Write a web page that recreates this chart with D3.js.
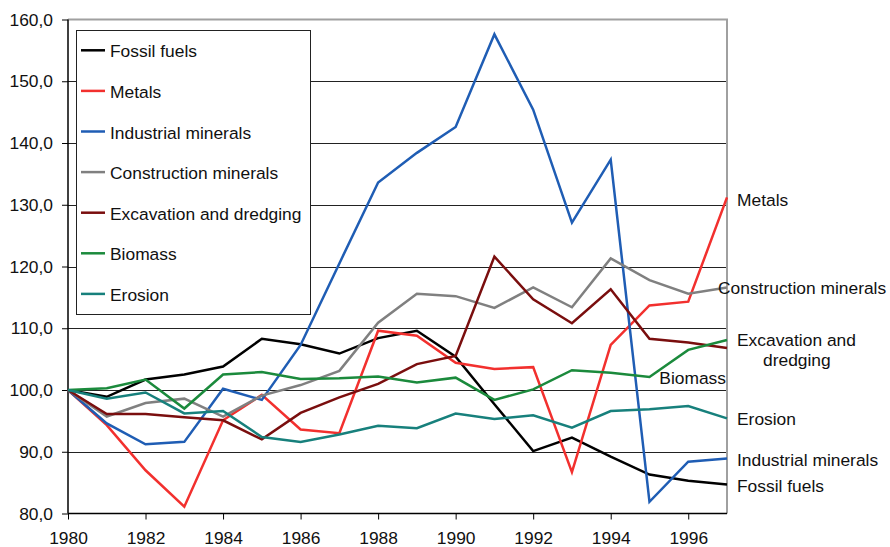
<!DOCTYPE html>
<html>
<head>
<meta charset="utf-8">
<script src="https://cdn.jsdelivr.net/npm/d3@7"></script>
<style>
  body { margin: 0; background: #fff; }
  text { font-family: "Liberation Sans", Arial, sans-serif; fill: #111; }
</style>
</head>
<body>
<div id="chart"></div>
<script>
var years = d3.range(1980, 1998);

var fossilFuels = [100, 98.9, 101.7, 102.5, 103.8, 108.3, 107.4, 105.9, 108.4, 109.6, 105.4, 97.7, 90.1, 92.3, 89.2, 86.3, 85.3, 84.7];
var metals = [100, 94.3, 87.0, 81.1, 95.1, 99.2, 93.6, 93.0, 109.6, 108.8, 104.4, 103.4, 103.7, 86.7, 107.3, 113.7, 114.3, 131.2];
var industrialMinerals = [100, 94.6, 91.2, 91.6, 100.2, 98.4, 107.3, 120.5, 133.6, 138.4, 142.6, 157.6, 145.4, 127.1, 137.3, 81.9, 88.4, 88.9];
var constructionMinerals = [100, 95.7, 97.9, 98.6, 95.7, 99.1, 100.8, 103.1, 110.9, 115.6, 115.2, 113.3, 116.6, 113.4, 121.3, 117.8, 115.6, 116.6];
var excavation = [100, 96.1, 96.1, 95.6, 95.1, 92.0, 96.3, 98.8, 101.0, 104.2, 105.5, 121.6, 114.7, 110.8, 116.3, 108.3, 107.7, 106.8];
var biomass = [100, 100.3, 101.7, 97.0, 102.5, 102.9, 101.8, 101.9, 102.2, 101.2, 102.0, 98.4, 100.1, 103.2, 102.8, 102.1, 106.5, 108.1];
var erosion = [100, 98.6, 99.6, 96.2, 96.6, 92.4, 91.6, 92.8, 94.2, 93.8, 96.2, 95.3, 95.9, 93.9, 96.6, 96.9, 97.4, 95.4];

var seriesNames = ["Fossil fuels", "Metals", "Industrial minerals", "Construction minerals", "Excavation and dredging", "Biomass", "Erosion"];
var seriesValues = [fossilFuels, metals, industrialMinerals, constructionMinerals, excavation, biomass, erosion];
var seriesColors = ["#000000", "#f2302e", "#1f5db4", "#808080", "#7a0e0e", "#1b8a3c", "#17807c"];

var yTicks = [80, 90, 100, 110, 120, 130, 140, 150, 160];
var xTicks = [1980, 1982, 1984, 1986, 1988, 1990, 1992, 1994, 1996];

// labels at the right end of the lines
var endLabels = [
  { lines: ["Metals"], x: 737, y: 206 },
  { lines: ["Construction minerals"], x: 718, y: 294 },
  { lines: ["Excavation and", "dredging"], x: 737, y: 346, dx: [0, 26] },
  { lines: ["Biomass"], x: 726, y: 384, anchor: "end" },
  { lines: ["Erosion"], x: 737, y: 425 },
  { lines: ["Industrial minerals"], x: 737, y: 466 },
  { lines: ["Fossil fuels"], x: 737, y: 492 }
];

var width = 890, height = 547;
var mLeft = 68, mRight = 727, mTop = 19.5, mBottom = 513.5;
var fontSize = "17.4px";

var svg = d3.select("#chart").append("svg")
  .attr("width", width)
  .attr("height", height);

var x = d3.scaleLinear().domain([1980, 1997]).range([mLeft, mRight]);
var y = d3.scaleLinear().domain([80, 160]).range([mBottom, mTop]);

// gridlines
svg.append("g")
  .selectAll("line")
  .data(yTicks.filter(function(d) { return d > 80 && d < 160; }))
  .enter().append("line")
  .attr("x1", mLeft).attr("x2", mRight)
  .attr("y1", function(d) { return Math.round(y(d)) + 0.5; })
  .attr("y2", function(d) { return Math.round(y(d)) + 0.5; })
  .attr("stroke", "#222")
  .attr("stroke-width", 1);

// top and right frame (gray)
svg.append("path")
  .attr("d", "M" + mLeft + "," + mTop + "H" + mRight + "V" + mBottom)
  .attr("fill", "none")
  .attr("stroke", "#a0a0a0")
  .attr("stroke-width", 2);

// y axis
var yAxis = d3.axisLeft(y)
  .tickValues(yTicks)
  .tickSize(6)
  .tickPadding(9)
  .tickFormat(function(d) { return d3.format(".1f")(d).replace(".", ","); });

var gy = svg.append("g")
  .attr("transform", "translate(" + mLeft + ",0)")
  .call(yAxis);
gy.select(".domain").attr("stroke", "#000").attr("stroke-width", 1.5)
  .attr("d", "M0," + mTop + "V" + mBottom);
gy.selectAll(".tick line").attr("stroke", "#000");
gy.selectAll("text")
  .attr("font-size", fontSize)
  .attr("font-family", "Liberation Sans, Arial, sans-serif")
  .attr("fill", "#111");

// x axis
var xAxis = d3.axisBottom(x)
  .tickValues(xTicks)
  .tickSize(6)
  .tickPadding(12)
  .tickFormat(d3.format("d"));

var gx = svg.append("g")
  .attr("transform", "translate(0," + mBottom + ")")
  .call(xAxis);
gx.select(".domain").attr("stroke", "#000").attr("stroke-width", 1.5)
  .attr("d", "M" + mLeft + ",0H" + mRight);
gx.selectAll(".tick line").attr("stroke", "#000");
gx.selectAll("text")
  .attr("font-size", fontSize)
  .attr("font-family", "Liberation Sans, Arial, sans-serif")
  .attr("fill", "#111");

// lines
var line = d3.line()
  .x(function(d, i) { return x(years[i]); })
  .y(function(d) { return y(d); });

svg.append("g")
  .selectAll("path")
  .data(seriesValues)
  .enter().append("path")
  .attr("d", line)
  .attr("fill", "none")
  .attr("stroke", function(d, i) { return seriesColors[i]; })
  .attr("stroke-width", 2.5)
  .attr("stroke-linejoin", "miter");

// legend
var legend = svg.append("g");
legend.append("rect")
  .attr("x", 76.5).attr("y", 30.5)
  .attr("width", 234).attr("height", 284)
  .attr("fill", "#fff")
  .attr("stroke", "#222")
  .attr("stroke-width", 1);

var rows = legend.selectAll(".row")
  .data(seriesNames)
  .enter().append("g")
  .attr("class", "row")
  .attr("transform", function(d, i) { return "translate(0," + (57.3 + i * 40.6) + ")"; });

rows.append("line")
  .attr("x1", 81).attr("x2", 105)
  .attr("y1", -7).attr("y2", -7)
  .attr("stroke", function(d, i) { return seriesColors[i]; })
  .attr("stroke-width", 2.5);

rows.append("text")
  .attr("x", 110)
  .attr("font-size", fontSize)
  .text(function(d) { return d; });

// end labels
var labs = svg.append("g")
  .selectAll("text")
  .data(endLabels)
  .enter().append("text")
  .attr("font-size", fontSize)
  .attr("text-anchor", function(d) { return d.anchor || "start"; });

labs.each(function(d) {
  var t = d3.select(this);
  d.lines.forEach(function(s, j) {
    t.append("tspan")
      .attr("x", d.x + (d.dx ? d.dx[j] : 0))
      .attr("y", d.y + j * 20)
      .text(s);
  });
});
</script>
</body>
</html>
